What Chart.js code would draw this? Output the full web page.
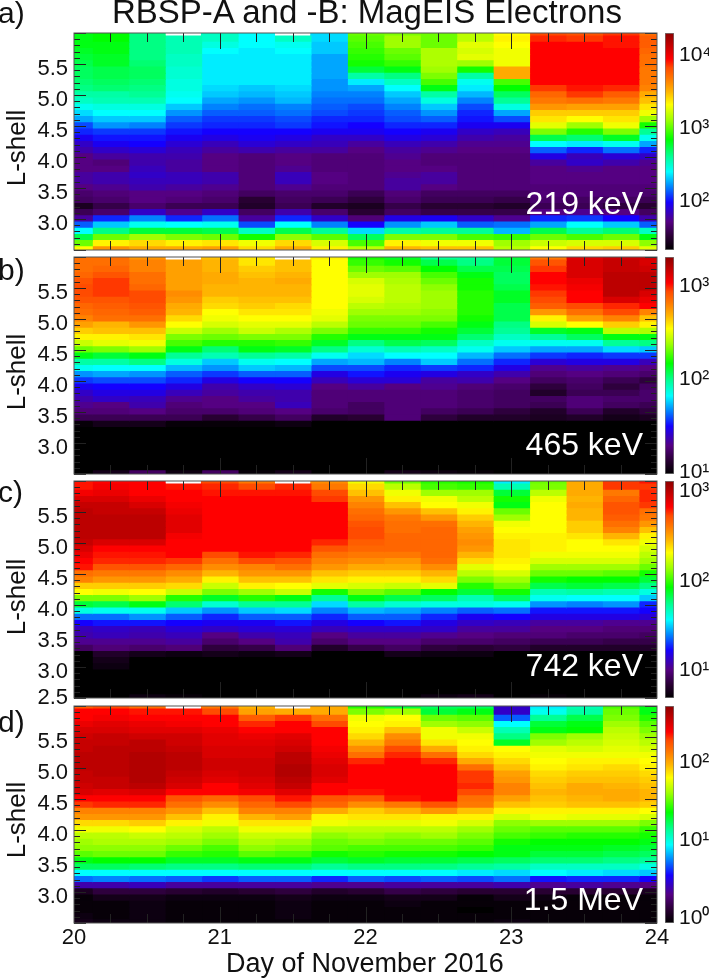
<!DOCTYPE html>
<html>
<head>
<meta charset="utf-8">
<title>RBSP-A and -B: MagEIS Electrons</title>
<script src="https://cdn.jsdelivr.net/npm/chart.js@4"></script>
<style>
  html, body { margin: 0; padding: 0; background: #fff; }
  body { position: relative; width: 709px; height: 979px; overflow: hidden; font-family: "Liberation Sans", Arial, sans-serif; color: #111; }
  canvas { position: absolute; }
  .txt { position: absolute; white-space: nowrap; line-height: 1; z-index: 5; }
  .ylab { font-size: 26px; transform: translate(-50%, -50%) rotate(-90deg); }
  .energy { font-size: 32px; color: #fff; right: 66px; }
  .letter { font-size: 30px; }
</style>
</head>
<body>
<div class="txt" style="left:112px;top:-5px;font-size:33px">RBSP-A and -B: MagEIS Electrons</div>
<div class="txt" style="left:226px;top:950px;font-size:27px">Day of November 2016</div>

<script>
// bin centres, time columns 20.00 ... 24.00, L rows 6.0 ... 2.5
const days = [20, 20.25, 20.5, 20.75, 21, 21.25, 21.5, 21.75, 22, 22.25, 22.5, 22.75, 23, 23.25, 23.5, 23.75, 24];
const lShells = [6.0, 5.9, 5.8, 5.7, 5.6, 5.5, 5.4, 5.3, 5.2, 5.1, 5.0, 4.9, 4.8, 4.7, 4.6, 4.5, 4.4, 4.3, 4.2, 4.1, 4.0, 3.9, 3.8, 3.7, 3.6, 3.5, 3.4, 3.3, 3.2, 3.1, 3.0, 2.9, 2.8, 2.7, 2.6, 2.5];

// flux per column, as position on the panel's colour bar (0 bottom, 100 top)
const flux219 = [
  [50,50,50,49,48, 47,46,46,45,44, 42,40,37,34,31, 26,24,21,18,16, 13,13,13,15,15, 13,11,10,4,9, 15,27,36,47,57, 67],
  [51,51,50,50,49, 49,47,47,46,45, 42,41,38,36,33, 30,25,23,21,18, 15,12,13,16,16, 14,12,11,8,11, 24,33,44,57,68, 76],
  [44,44,44,44,44, 45,46,46,45,44, 43,41,38,36,33, 29,25,23,22,19, 16,16,17,18,17, 16,13,13,11,18, 29,37,48,60,70, 74],
  [null,41,41,41,40, 40,39,39,38,38, 37,36,33,30,27, 25,23,21,19,17, 16,15,15,17,17, 15,13,12,9,14, 24,36,48,58,68, 74],
  [40,40,38,36,35, 35,35,35,35,34, 33,31,29,27,25, 24,22,20,17,15, 13,13,13,16,16, 14,12,11,9,18, 28,37,47,57,69, 75],
  [36,36,36,35,35, 35,35,35,35,33, 32,30,28,27,25, 24,22,21,19,16, 12,12,12,12,12, 12,10,6,5,10, 15,26,40,52,66, 70],
  [null,40,37,36,35, 35,35,35,35,34, 33,32,29,28,26, 25,22,20,18,15, 13,13,14,17,17, 14,11,10,9,16, 24,36,47,59,70, 74],
  [34,34,33,33,31, 31,31,31,30,30, 29,28,27,26,24, 23,21,18,17,15, 12,12,12,13,13, 12,11,9,5,11, 18,29,43,56,64, 68],
  [57,56,55,54,53, 52,48,42,35,31, 29,28,26,25,24, 22,21,18,15,13, 12,12,12,12,12, 12,9,7,4,6, 12,22,34,46,55, 62],
  [58,60,60,57,56, 54,50,44,40,36, 33,31,29,27,26, 24,22,20,17,15, 14,13,13,14,15, 15,12,11,8,10, 20,30,42,58,68, 73],
  [57,57,57,61,61, 61,60,58,55,50, 42,38,33,30,27, 24,21,19,16,14, 12,12,13,15,15, 13,10,9,6,8, 21,33,43,58,66, 72],
  [62,62,65,64,65, 60,52,42,37,35, 32,29,26,24,23, 21,18,16,14,13, 12,12,12,12,12, 12,10,9,6,8, 18,27,43,55,66, 72],
  [67,68,67,66,66, 66,74,74,55,51, 46,43,38,31,26, 21,17,15,14,13, 12,12,12,12,12, 12,10,8,5,8, 14,28,32,54,60, 62],
  [84,86,88,88,88, 88,88,88,88,85, 81,79,76,71,69, 65,58,47,36,27, 20,15,13,13,13, 12,12,11,9,13, 24,31,47,57,63, 67],
  [83,85,88,88,88, 88,88,88,88,87, 85,80,75,71,67, 60,53,45,35,24, 17,18,14,13,13, 12,12,10,9,14, 25,36,43,55,64, 70],
  [85,87,87,88,88, 88,88,88,88,86, 82,79,75,71,69, 66,58,49,37,28, 19,16,13,13,13, 12,12,10,7,13, 22,33,45,57,64, 71],
  [80,82,82,81,80, 80,79,79,79,78, 74,72,69,66,60, 52,43,37,31,24, 18,14,13,13,13, 12,11,9,6,10, 16,27,40,50,59, 65]
];
const flux465 = [
  [80,80,80,81,83, 84,84,83,81,80, 78,75,71,68,63, 57,50,42,37,30, 25,21,18,16,14, 12,9,1,0,0, 0,0,0,0,0, 0],
  [80,80,81,83,85, 85,85,83,82,81, 80,73,72,68,65, 58,48,42,36,31, 26,22,20,18,13, 12,9,3,0,0, 0,0,0,0,0, 3],
  [76,78,78,80,80, 81,84,84,83,82, 80,76,72,69,66, 60,50,44,36,30, 26,22,20,17,16, 13,9,3,0,0, 0,0,0,0,0, 10],
  [null,75,75,75,75, 75,77,76,74,73, 70,67,63,58,55, 50,43,38,32,27, 24,20,17,14,12, 11,9,1,0,0, 0,0,0,0,0, 2],
  [72,73,73,74,74, 73,73,71,70,67, 66,64,60,57,53, 45,41,33,30,25, 20,16,15,13,13, 11,6,1,0,0, 0,0,0,0,0, 10],
  [69,69,71,72,73, 73,73,72,71,69, 67,65,63,58,53, 50,43,37,33,27, 22,18,16,15,13, 12,8,1,0,0, 0,0,0,0,0, 1],
  [null,72,72,73,74, 73,73,72,70,69, 67,65,61,58,54, 49,42,36,32,27, 22,19,16,16,17, 13,10,2,0,0, 0,0,0,0,0, 3],
  [68,67,67,67,67, 67,67,67,67,66, 65,62,58,53,49, 44,37,31,26,20, 17,13,12,12,12, 11,5,0,0,0, 0,0,0,0,0, 0],
  [52,54,57,60,64, 65,65,64,62,60, 58,57,54,50,44, 39,34,32,26,23, 19,15,12,12,10, 10,6,0,0,0, 0,0,0,0,0, 0],
  [49,52,56,60,61, 62,62,62,61,60, 58,57,54,50,47, 41,36,29,24,21, 19,13,12,12,12, 12,12,0,0,0, 0,0,0,0,0, 3],
  [43,47,51,55,57, 59,60,60,60,59, 58,55,52,50,46, 40,36,33,25,20, 15,14,12,12,12, 10,7,0,0,0, 0,0,0,0,0, 2],
  [43,44,47,50,52, 52,53,53,53,53, 52,50,48,45,40, 37,32,28,24,18, 16,12,11,11,11, 9,5,0,0,0, 0,0,0,0,0, 1],
  [48,48,47,46,46, 47,49,49,47,47, 47,44,43,40,37, 33,28,24,20,16, 13,11,10,10,10, 7,5,0,0,0, 0,0,0,0,0, 0],
  [79,83,85,88,88, 87,85,84,82,76, 68,64,49,43,37, 31,25,19,14,12, 10,7,5,10,9, 5,4,0,0,0, 0,0,0,0,0, 0],
  [91,92,92,92,90, 89,88,88,84,80, 75,67,50,46,37, 31,24,20,15,13, 11,10,9,12,12, 9,5,0,0,0, 0,0,0,0,0, 0],
  [93,94,94,95,95, 95,95,92,86,84, 78,71,62,50,43, 34,25,20,14,12, 9,7,9,11,10, 5,3,0,0,0, 0,0,0,0,0, 0],
  [93,92,93,95,95, 95,92,90,88,78, 72,68,61,50,44, 33,25,17,13,11, 7,10,11,11,9, 7,4,0,0,0, 0,0,0,0,0, 0]
];
const flux742 = [
  [87,87,89,92,94, 95,95,95,95,95, 94,92,90,88,87, 80,78,71,67,58, 48,38,28,22,17, 16,14,10,0,0, 0,0,0,0,0, 0],
  [88,89,90,92,94, 94,95,95,95,95, 92,88,87,86,83, 79,76,71,66,58, 47,37,28,23,18, 17,14,12,5,3, 2,0,0,0,0, 0],
  [88,88,88,90,92, 94,95,95,95,95, 92,88,87,86,83, 79,76,71,67,60, 50,37,30,23,17, 16,14,11,3,0, 0,0,0,0,0, 2],
  [null,87,88,88,89, 90,91,91,91,89, 88,88,88,85,81, 77,74,70,63,53, 45,33,27,22,19, 17,15,12,2,0, 0,0,0,0,0, 1],
  [84,86,87,88,88, 88,88,88,88,88, 88,88,84,80,77, 73,68,63,58,49, 39,30,24,21,18, 13,11,7,3,0, 0,0,0,0,0, 0],
  [79,84,87,88,88, 88,88,88,88,88, 88,88,87,84,78, 76,72,68,60,53, 43,33,27,21,19, 16,13,8,2,0, 0,0,0,0,0, 0],
  [null,86,87,88,88, 88,88,88,88,88, 88,88,86,83,80, 76,72,67,63,50, 43,34,27,23,19, 17,16,12,3,0, 0,0,0,0,0, 0],
  [77,79,84,85,88, 88,88,88,88,88, 86,83,80,78,76, 72,69,65,52,43, 34,29,24,20,17, 13,11,5,0,0, 0,0,0,0,0, 0],
  [66,70,72,76,78, 80,81,83,84,84, 82,81,79,77,74, 71,68,64,58,50, 42,32,27,22,18, 15,13,8,0,0, 0,0,0,0,0, 0],
  [57,62,66,68,72, 76,79,80,80,81, 81,81,79,76,74, 71,68,63,56,47, 39,31,27,23,18, 15,13,10,3,0, 0,0,0,0,0, 0],
  [53,55,60,66,67, 72,76,80,81,81, 81,81,81,80,77, 73,70,65,51,46, 38,29,24,20,18, 14,11,7,2,0, 0,0,0,0,0, 2],
  [52,54,60,62,66, 68,71,73,75,76, 77,76,73,70,65, 62,58,53,48,41, 38,27,21,18,15, 13,11,6,2,0, 0,0,0,0,0, 3],
  [35,41,48,52,50, 57,60,66,67,68, 69,69,69,68,67, 64,60,57,52,46, 37,28,22,17,15, 12,10,7,0,0, 0,0,0,0,0, 0],
  [57,58,62,66,67, 67,67,67,67,68, 68,68,66,64,60, 57,52,47,41,37, 30,23,20,15,13, 12,9,5,0,0, 0,0,0,0,0, 1],
  [74,74,74,73,74, 73,73,71,71,69, 67,67,66,64,60, 57,51,48,42,36, 29,23,20,15,13, 11,9,5,0,0, 0,0,0,0,0, 0],
  [85,85,79,81,83, 83,82,80,78,73, 69,67,66,64,60, 56,51,47,41,36, 30,23,20,14,12, 11,8,5,0,0, 0,0,0,0,0, 0],
  [87,85,86,86,85, 80,79,76,72,68, 66,64,62,60,57, 52,48,44,38,33, 24,22,19,14,12, 10,8,5,0,0, 0,0,0,0,0, 0]
];
const flux1500 = [
  [82,88,88,90,92, 93,94,94,95,95, 95,94,94,93,92, 88,85,78,76,70, 66,62,60,59,56, 50,46,36,28,16, 4,1,1,1,2, 3],
  [84,88,89,91,92, 94,94,95,95,95, 95,95,94,94,91, 88,86,78,76,70, 66,62,61,59,57, 51,46,36,29,16, 7,3,1,1,1, 2],
  [80,87,88,90,91, 93,95,95,96,96, 96,96,96,95,92, 88,86,78,76,71, 67,63,61,59,57, 51,45,36,28,17, 7,3,2,2,2, 2],
  [null,87,88,89,91, 93,93,94,95,95, 95,94,93,92,88, 83,80,76,72,68, 64,62,60,57,54, 49,44,36,27,15, 6,2,1,1,1, 1],
  [79,84,88,88,90, 91,91,92,92,93, 93,92,91,88,88, 81,77,72,68,66, 62,60,58,55,53, 49,44,36,25,15, 5,2,1,1,1, 1],
  [73,75,82,86,88, 90,91,92,92,93, 93,93,92,91,89, 84,81,78,73,69, 66,63,61,59,56, 50,45,36,27,15, 6,2,1,1,1, 1],
  [null,74,85,88,88, 91,92,93,95,95, 96,96,95,94,91, 87,84,78,75,69, 66,63,60,58,55, 50,45,36,27,15, 7,3,2,2,2, 1],
  [74,74,80,84,88, 88,88,89,90,91, 92,92,91,88,88, 83,81,74,68,66, 62,59,57,56,52, 48,43,36,24,14, 5,2,1,1,1, 1],
  [53,58,66,67,68, 70,73,77,80,86, 88,88,88,88,87, 82,77,71,69,65, 62,60,58,55,53, 49,44,36,27,14, 6,2,1,1,1, 1],
  [48,60,67,68,72, 77,79,84,86,88, 88,88,88,88,88, 87,79,73,69,65, 62,59,57,55,52, 48,44,36,26,15, 8,3,2,1,1, 1],
  [46,48,57,60,66, 66,69,74,80,86, 88,88,88,88,88, 88,83,76,68,66, 62,60,57,55,52, 48,44,36,27,15, 7,3,1,1,1, 1],
  [46,50,56,59,63, 66,67,68,70,74, 80,85,85,86,84, 80,79,72,68,64, 60,58,56,54,51, 47,43,35,26,15, 6,1,1,0,1, 1],
  [18,18,27,36,41, 44,49,67,68,70, 72,75,76,78,78, 75,72,68,64,59, 57,55,52,50,50, 46,42,34,28,16, 6,3,1,1,1, 2],
  [35,37,43,48,50, 58,60,65,66,67, 68,70,71,72,73, 72,71,68,66,60, 56,54,51,50,48, 45,40,36,23,14, 6,2,1,1,1, 1],
  [41,42,47,50,51, 60,62,64,66,68, 69,71,72,74,74, 73,72,68,65,60, 56,53,51,50,48, 45,40,35,24,15, 6,1,1,1,1, 1],
  [55,57,58,60,62, 63,64,65,66,68, 70,71,72,73,74, 74,72,68,65,60, 56,53,51,49,47, 44,40,34,24,14, 6,1,1,1,1, 1],
  [50,50,53,56,58, 60,62,64,66,67, 68,70,71,72,73, 73,71,67,64,58, 54,52,50,48,46, 43,38,33,22,13, 4,1,1,1,1, 1]
];

const colorStops = [
  [0, 0, 0, 0], [6, 40, 0, 50], [13, 85, 0, 130], [22, 20, 0, 255], [29, 0, 130, 255], [36, 0, 255, 255],
  [43, 0, 255, 150], [51, 0, 255, 0], [60, 160, 255, 0], [67, 255, 255, 0], [73, 255, 180, 0],
  [79, 255, 120, 0], [84, 255, 75, 0], [88, 255, 0, 0], [100, 140, 0, 0]
];

const levelColor = level => {
  if (level === null) return 'rgba(0,0,0,0)';
  let i = 0;
  while (i < colorStops.length - 2 && level > colorStops[i + 1][0]) i++;
  const a = colorStops[i], b = colorStops[i + 1];
  const f = (level - a[0]) / (b[0] - a[0]);
  return `rgb(${[1, 2, 3].map(k => Math.round(a[k] + (b[k] - a[k]) * f)).join(',')})`;
};

const superscripts = { 0: '⁰', 1: '¹', 2: '²', 3: '³', 4: '⁴' };
const fontFamily = '"Liberation Sans", Arial, sans-serif';
const left = 74, right = 657, panelHeight = 217, pad = 12;

// tick labels may hang over the plot edges, so the axes must not claim margin for them
const noMargins = s => {
  s.paddingTop = s.paddingBottom = s.paddingLeft = s.paddingRight = 0;
};

// inward ticks and the frame, placed with the chart's scales
const frameTicks = {
  id: 'frameTicks',
  afterDatasetsDraw(chart) {
    const { ctx, chartArea: area, scales: { x, y } } = chart;
    ctx.save();
    ctx.strokeStyle = '#222';
    ctx.lineWidth = 1;
    ctx.beginPath();
    for (let i = 1; i < 16; i++) {
      const px = Math.round(x.getPixelForValue(days[i])) + 0.5;
      const len = i % 4 === 0 ? 16 : 9;
      ctx.moveTo(px, area.top); ctx.lineTo(px, area.top + len);
      ctx.moveTo(px, area.bottom); ctx.lineTo(px, area.bottom - len);
    }
    lShells.forEach((L, i) => {
      const py = Math.round(y.getPixelForValue(L)) + 0.5;
      const len = i % 5 === 0 ? 12 : 6;
      ctx.moveTo(area.left, py); ctx.lineTo(area.left + len, py);
      ctx.moveTo(area.right, py); ctx.lineTo(area.right - len, py);
    });
    ctx.stroke();
    ctx.strokeStyle = '#555';
    ctx.strokeRect(area.left, area.top, area.right - area.left, area.bottom - area.top);
    ctx.restore();
  }
};

const addText = (cls, text, style) => {
  const el = document.createElement('div');
  el.className = 'txt ' + cls;
  el.textContent = text;
  Object.assign(el.style, style);
  document.body.appendChild(el);
};

const addCanvas = (x, y, w, h) => {
  const c = document.createElement('canvas');
  c.width = w; c.height = h;
  c.style.left = x + 'px'; c.style.top = y + 'px';
  document.body.appendChild(c);
  return c;
};

const panels = [
  { flux: flux219, top: 33, letter: 'a)', letterTop: -2, energy: '219 keV', energyTop: 187, labelY: 148, logMin: 1.30, logMax: 4.26, yTicks: [3, 3.5, 4, 4.5, 5, 5.5] },
  { flux: flux465, top: 257, letter: 'b)', letterTop: 255, energy: '465 keV', energyTop: 428, labelY: 372, logMin: 0.95, logMax: 3.28, yTicks: [3, 3.5, 4, 4.5, 5, 5.5] },
  { flux: flux742, top: 481, letter: 'c)', letterTop: 477, energy: '742 keV', energyTop: 649, labelY: 597, logMin: 0.66, logMax: 3.08, yTicks: [2.5, 3, 3.5, 4, 4.5, 5, 5.5] },
  { flux: flux1500, top: 706, letter: 'd)', letterTop: 707, energy: '1.5 MeV', energyTop: 883, labelY: 820, logMin: -0.1, logMax: 2.68, yTicks: [3, 3.5, 4, 4.5, 5, 5.5], showDays: true }
];

panels.forEach(p => {
  addText('letter', p.letter, { left: '-2px', top: p.letterTop + 'px' });
  addText('ylab', 'L-shell', { left: '16px', top: p.labelY + 'px' });
  addText('energy', p.energy, { top: p.energyTop + 'px' });

  const bottomSpace = p.showDays ? 34 : pad;
  const canvas = addCanvas(0, p.top - pad, 709, panelHeight + pad + bottomSpace);

  new Chart(canvas, {
    type: 'bar',
    data: {
      datasets: days.map((day, c) => ({
        data: lShells.map(L => ({ x: day, y: [L - 0.05, L + 0.05] })),
        backgroundColor: p.flux[c].map(levelColor),
        barThickness: (right - left) / 16,
        grouped: false,
        inflateAmount: 0.6,
        borderWidth: 0
      }))
    },
    options: {
      responsive: false,
      animation: false,
      layout: { padding: { top: pad, right: 709 - right, bottom: 0, left: 0 } },
      plugins: { legend: { display: false }, tooltip: { enabled: false } },
      scales: {
        x: {
          type: 'linear',
          offset: false,
          min: 20,
          max: 24,
          display: !!p.showDays,
          grid: { display: false, drawTicks: false, offset: false },
          border: { display: false },
          afterFit: s => { s.height = bottomSpace; noMargins(s); },
          ticks: { stepSize: 1, padding: 2, maxRotation: 0, color: '#111', font: { family: fontFamily, size: 22 } }
        },
        y: {
          min: 2.5,
          max: 6,
          grid: { display: false, drawTicks: false },
          border: { display: false },
          afterFit: s => {
            s.width = left;
            noMargins(s);
            // the labels sit a little under their ticks, the lowest one stays inside the panel
            s.getPixelForTick = i => s.getPixelForValue(s.ticks[i].value) + (s.ticks[i].value > 2.5 ? 5 : 0);
          },
          afterBuildTicks: s => { s.ticks = p.yTicks.map(value => ({ value })); },
          ticks: { padding: 6, color: '#111', font: { family: fontFamily, size: 22 }, callback: v => v.toFixed(1) }
        }
      }
    },
    plugins: [frameTicks]
  });

  // colour bar, one floating bar from the bottom to the top of the log range
  const barCanvas = addCanvas(660, p.top - pad, 49, panelHeight + 2 * pad);
  const decades = [];
  for (let d = Math.ceil(p.logMin); d <= p.logMax; d++) decades.push(d);

  new Chart(barCanvas, {
    type: 'bar',
    data: {
      labels: [''],
      datasets: [{
        data: [[p.logMin, p.logMax]],
        barPercentage: 1,
        categoryPercentage: 1,
        borderWidth: 1,
        borderColor: '#777',
        borderSkipped: false,
        backgroundColor: ctx => {
          const area = ctx.chart.chartArea;
          if (!area) return '#000';
          const g = ctx.chart.ctx.createLinearGradient(0, area.bottom, 0, area.top);
          colorStops.forEach(s => g.addColorStop(s[0] / 100, levelColor(s[0])));
          return g;
        }
      }]
    },
    options: {
      responsive: false,
      animation: false,
      layout: { padding: { top: pad, bottom: pad, left: 5, right: 0 } },
      plugins: { legend: { display: false }, tooltip: { enabled: false } },
      scales: {
        x: { display: false, offset: true },
        y: {
          position: 'right',
          min: p.logMin,
          max: p.logMax,
          grid: { display: false, drawTicks: false },
          border: { display: false },
          afterFit: s => {
            s.width = 35;
            noMargins(s);
            s.getPixelForTick = i => s.getPixelForValue(s.ticks[i].value) + 3;
          },
          afterBuildTicks: s => { s.ticks = decades.map(value => ({ value })); },
          ticks: { padding: 5, color: '#111', font: { family: fontFamily, size: 21 }, callback: v => '10' + superscripts[v] }
        }
      }
    }
  });
});
</script>
</body>
</html>
